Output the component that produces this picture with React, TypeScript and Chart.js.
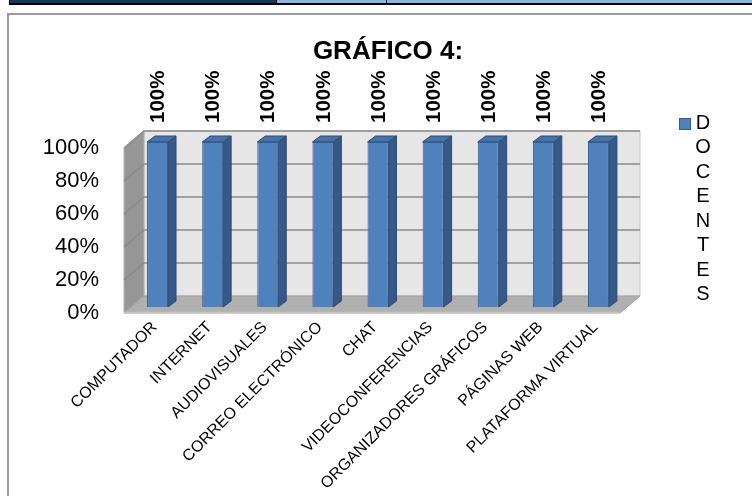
import React, { useEffect, useRef } from 'react';
import { Chart, registerables } from 'chart.js';

Chart.register(...registerables);

// ---- data ----
const categories = [
  'COMPUTADOR',
  'INTERNET',
  'AUDIOVISUALES',
  'CORREO ELECTRÓNICO',
  'CHAT',
  'VIDEOCONFERENCIAS',
  'ORGANIZADORES GRÁFICOS',
  'PÁGINAS WEB',
  'PLATAFORMA VIRTUAL',
];
const docentes = [100, 100, 100, 100, 100, 100, 100, 100, 100];
const yTickValues = [0, 20, 40, 60, 80, 100];
const seriesLabel = 'DOCENTES';
const titleText = 'GRÁFICO 4:';

// ---- style ----
const FONT = "'Liberation Sans', Arial, sans-serif";
const BAR_FRONT = '#4F81BD';
const BAR_BORDER = '#385D8A';
const BAR_SIDE = '#36598A';
const BAR_TOP = '#4572AB';
const DEPTH = { x: 20, y: -17 };
const BAR_SHIFT = { x: 6, y: -6 };
const BAR_DEPTH = { x: 8, y: -6 };

function poly(ctx: CanvasRenderingContext2D, pts: number[][], fill: string, stroke?: string) {
  ctx.beginPath();
  ctx.moveTo(pts[0][0], pts[0][1]);
  for (let i = 1; i < pts.length; i++) ctx.lineTo(pts[i][0], pts[i][1]);
  ctx.closePath();
  ctx.fillStyle = fill;
  ctx.fill();
  if (stroke) {
    ctx.strokeStyle = stroke;
    ctx.lineWidth = 1;
    ctx.stroke();
  }
}

const threeDPlugin = {
  id: 'threeD',
  beforeDatasetsDraw(chart: any) {
    const { ctx, chartArea: a, scales } = chart;
    const y = scales.y;
    const L = a.left, R = a.right, T = a.top, B = a.bottom;
    const dx = DEPTH.x, dy = DEPTH.y;
    ctx.save();
    // back wall
    poly(ctx, [[L + dx, T + dy], [R + dx, T + dy], [R + dx, B + dy], [L + dx, B + dy]], '#E6E6E6', '#C8C8C8');
    // left wall
    poly(ctx, [[L, T], [L + dx, T + dy], [L + dx, B + dy], [L, B]], '#969696', '#B4B4B4');
    // floor
    poly(ctx, [[L, B], [R, B], [R + dx, B + dy], [L + dx, B + dy]], '#B0B0B0', '#A0A0A0');
    // floor front edge
    ctx.strokeStyle = '#C4C4C4';
    ctx.lineWidth = 1.5;
    ctx.beginPath();
    ctx.moveTo(L, B - 0.5);
    ctx.lineTo(R, B - 0.5);
    ctx.stroke();
    // gridlines
    ctx.strokeStyle = '#8A8A8A';
    ctx.lineWidth = 1.5;
    yTickValues.forEach((v) => {
      if (v === 0) return;
      const py = y.getPixelForValue(v);
      ctx.beginPath();
      ctx.moveTo(L, py);
      ctx.lineTo(L + dx, py + dy);
      ctx.lineTo(R + dx, py + dy);
      ctx.stroke();
    });
    ctx.restore();

    // bar 3D faces (side and top), shifted into depth
    ctx.save();
    ctx.translate(BAR_SHIFT.x, BAR_SHIFT.y);
    const meta = chart.getDatasetMeta(0);
    meta.data.forEach((bar: any) => {
      const { x, y: top, base, width } = bar.getProps(['x', 'y', 'base', 'width'], true);
      const l = x - width / 2;
      const r = x + width / 2;
      const bx = BAR_DEPTH.x, by = BAR_DEPTH.y;
      poly(ctx, [[r, top], [r + bx, top + by], [r + bx, base + by], [r, base]], BAR_SIDE, '#2E4C73');
      poly(ctx, [[l, top], [r, top], [r + bx, top + by], [l + bx, top + by]], BAR_TOP, '#2E4C73');
    });
    // keep translation for dataset drawing; restored in afterDatasetsDraw
  },
  afterDatasetsDraw(chart: any) {
    const { ctx } = chart;
    ctx.restore();

    // data labels
    const meta = chart.getDatasetMeta(0);
    const values = chart.data.datasets[0].data;
    ctx.save();
    ctx.fillStyle = '#000';
    ctx.font = `bold 20.5px ${FONT}`;
    ctx.textAlign = 'left';
    ctx.textBaseline = 'middle';
    meta.data.forEach((bar: any, i: number) => {
      const { x, y } = bar.getProps(['x', 'y'], true);
      const px = x + BAR_SHIFT.x + 1;
      const py = y + BAR_SHIFT.y + BAR_DEPTH.y - 13;
      ctx.save();
      ctx.translate(px, py);
      ctx.rotate(-Math.PI / 2);
      ctx.fillText(`${values[i]}%`, 0, 0);
      ctx.restore();
    });
    ctx.restore();

    // title
    ctx.save();
    ctx.fillStyle = '#000';
    ctx.font = `bold 26px ${FONT}`;
    ctx.textAlign = 'center';
    ctx.textBaseline = 'middle';
    ctx.fillText(titleText, 388, 52);
    ctx.restore();

    // legend (vertical letters)
    ctx.save();
    ctx.fillStyle = BAR_FRONT;
    ctx.fillRect(679.5, 118.5, 11, 11);
    ctx.strokeStyle = BAR_BORDER;
    ctx.lineWidth = 1;
    ctx.strokeRect(679.5, 118.5, 11, 11);
    ctx.fillStyle = '#000';
    ctx.font = `20px ${FONT}`;
    ctx.textAlign = 'center';
    ctx.textBaseline = 'middle';
    const label = chart.data.datasets[0].label as string;
    label.split('').forEach((ch, i) => {
      ctx.fillText(ch, 703, 123 + i * 24.5);
    });
    ctx.restore();
  },
};

export default function App() {
  const canvasRef = useRef<HTMLCanvasElement | null>(null);

  useEffect(() => {
    if (!canvasRef.current) return;
    const chart = new Chart(canvasRef.current, {
      type: 'bar',
      data: {
        labels: categories,
        datasets: [
          {
            label: seriesLabel,
            data: docentes,
            backgroundColor: BAR_FRONT,
            borderColor: BAR_BORDER,
            borderWidth: 1,
            categoryPercentage: 1,
            barPercentage: 0.38,
            clip: false as any,
          },
        ],
      },
      options: {
        responsive: false,
        animation: false,
        layout: { padding: { top: 148, right: 132, left: 0, bottom: 0 } },
        plugins: {
          legend: { display: false },
          title: { display: false },
          tooltip: { enabled: false },
        },
        scales: {
          x: {
            grid: { display: false, drawTicks: false },
            border: { display: false },
            ticks: {
              autoSkip: false,
              maxRotation: 45,
              minRotation: 45,
              padding: 5,
              labelOffset: 3,
              color: '#000',
              font: { family: FONT, size: 16 },
            },
            afterFit: (scale: any) => {
              scale.height = 183;
            },
          },
          y: {
            min: 0,
            max: 100,
            grid: { display: false, drawTicks: false },
            border: { display: false },
            ticks: {
              stepSize: 20,
              padding: 25,
              color: '#000',
              font: { family: FONT, size: 22 },
              callback: (v: any) => `${v}%`,
            },
            afterFit: (scale: any) => {
              scale.width = 124;
            },
          },
        },
      },
      plugins: [threeDPlugin],
    });
    return () => chart.destroy();
  }, []);

  return (
    <div style={{ position: 'fixed', left: 0, top: 0, width: 752, height: 496, overflow: 'hidden', background: '#fff' }}>
      {/* table remnant strip at top */}
      <div style={{ position: 'absolute', left: 10, top: 0, width: 266, height: 3, background: '#17375E' }} />
      <div style={{ position: 'absolute', left: 277, top: 0, width: 475, height: 3, background: '#8DB4E2' }} />
      <div style={{ position: 'absolute', left: 276, top: 0, width: 1, height: 3, background: '#000' }} />
      <div style={{ position: 'absolute', left: 386, top: 0, width: 1, height: 3, background: '#000' }} />
      <div style={{ position: 'absolute', left: 9, top: 0, width: 1, height: 5, background: '#000' }} />
      <div style={{ position: 'absolute', left: 9, top: 3, width: 743, height: 2, background: '#000' }} />
      {/* chart frame */}
      <div style={{ position: 'absolute', left: 7, top: 13, width: 800, height: 600, border: '2px solid #9A9A9A', boxSizing: 'border-box' }} />
      <canvas ref={canvasRef} width={752} height={496} style={{ position: 'absolute', left: 0, top: 0, width: 752, height: 496 }} />
    </div>
  );
}
